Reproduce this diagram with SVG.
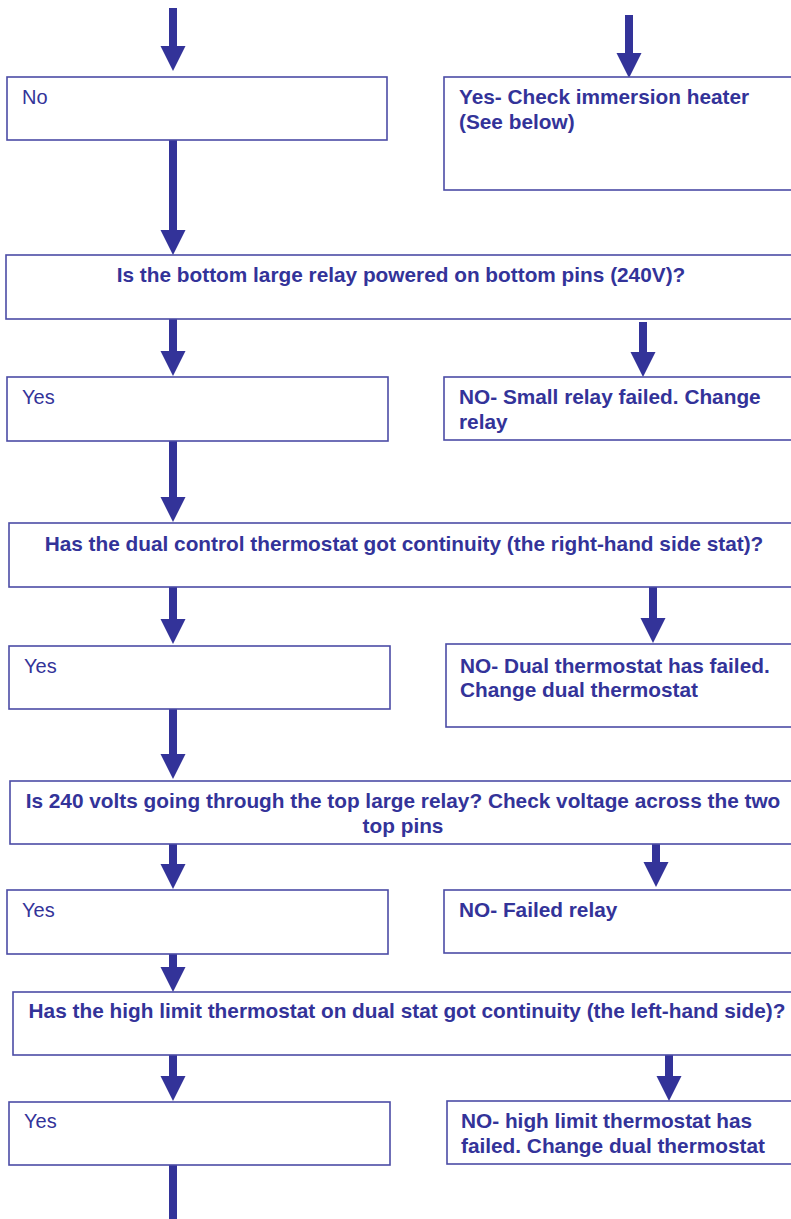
<svg xmlns="http://www.w3.org/2000/svg" width="791" height="1219" viewBox="0 0 791 1219">
<style>
.box{fill:#ffffff;stroke:#4b4ca6;stroke-width:1.6}
.t{fill:#333399;font-family:"Liberation Sans",Arial,sans-serif;font-size:20.8px;font-weight:bold}
.r{fill:#333399;font-family:"Liberation Sans",Arial,sans-serif;font-size:20px}
.c{text-anchor:middle}
.shaft{stroke:#333399;stroke-width:8;fill:none;marker-end:url(#head)}
.plain{stroke:#333399;stroke-width:8;fill:none}
</style>
<defs>
<marker id="head" viewBox="0 -12.5 25 25" markerWidth="25" markerHeight="25" refX="0" refY="0" orient="auto" markerUnits="userSpaceOnUse" overflow="visible">
<path d="M0,-12.5 L25,0 L0,12.5 Z" fill="#333399"/>
</marker>
</defs>
<rect width="791" height="1219" fill="#ffffff"/>
<g id="connectors">
<line class="shaft" x1="173" y1="8" x2="173" y2="46"/>
<line class="shaft" x1="629" y1="15" x2="629" y2="53"/>
<line class="shaft" x1="173" y1="140" x2="173" y2="230"/>
<line class="shaft" x1="173" y1="319" x2="173" y2="351"/>
<line class="shaft" x1="643" y1="322" x2="643" y2="352"/>
<line class="shaft" x1="173" y1="441" x2="173" y2="497"/>
<line class="shaft" x1="173" y1="587" x2="173" y2="619"/>
<line class="shaft" x1="653" y1="586" x2="653" y2="618"/>
<line class="shaft" x1="173" y1="709" x2="173" y2="754"/>
<line class="shaft" x1="173" y1="844" x2="173" y2="864"/>
<line class="shaft" x1="656" y1="843" x2="656" y2="862"/>
<line class="shaft" x1="173" y1="954" x2="173" y2="967"/>
<line class="shaft" x1="173" y1="1055" x2="173" y2="1076"/>
<line class="shaft" x1="669" y1="1055" x2="669" y2="1076"/>
<line class="plain" x1="173" y1="1165" x2="173" y2="1219"/>
</g>
<g id="no">
<rect class="box" x="7" y="77" width="380" height="63"/>
<text class="r" x="22" y="104">No</text>
</g>
<g id="yes-heater">
<rect class="box" x="444" y="77" width="360" height="113"/>
<text class="t" x="459" y="104">Yes- Check immersion heater</text>
<text class="t" x="459" y="129">(See below)</text>
</g>
<g id="q1">
<rect class="box" x="6" y="255" width="800" height="64"/>
<text class="t c" x="401" y="282">Is the bottom large relay powered on bottom pins (240V)?</text>
</g>
<g id="yes1">
<rect class="box" x="7" y="377" width="381" height="64"/>
<text class="r" x="22" y="404">Yes</text>
</g>
<g id="no1">
<rect class="box" x="444" y="377" width="360" height="63"/>
<text class="t" x="459" y="404">NO- Small relay failed. Change</text>
<text class="t" x="459" y="429">relay</text>
</g>
<g id="q2">
<rect class="box" x="9" y="523" width="800" height="64"/>
<text class="t c" x="404" y="551">Has the dual control thermostat got continuity (the right-hand side stat)?</text>
</g>
<g id="yes2">
<rect class="box" x="9" y="646" width="381" height="63"/>
<text class="r" x="24" y="673">Yes</text>
</g>
<g id="no2">
<rect class="box" x="446" y="644" width="360" height="83"/>
<text class="t" x="460" y="673">NO- Dual thermostat has failed.</text>
<text class="t" x="460" y="697">Change dual thermostat</text>
</g>
<g id="q3">
<rect class="box" x="10" y="781" width="800" height="63"/>
<text class="t c" x="403" y="808">Is 240 volts going through the top large relay? Check voltage across the two</text>
<text class="t c" x="403" y="833">top pins</text>
</g>
<g id="yes3">
<rect class="box" x="7" y="890" width="381" height="64"/>
<text class="r" x="22" y="917">Yes</text>
</g>
<g id="no3">
<rect class="box" x="444" y="890" width="360" height="63"/>
<text class="t" x="459" y="917">NO- Failed relay</text>
</g>
<g id="q4">
<rect class="box" x="13" y="992" width="800" height="63"/>
<text class="t c" x="407" y="1018">Has the high limit thermostat on dual stat got continuity (the left-hand side)?</text>
</g>
<g id="yes4">
<rect class="box" x="9" y="1102" width="381" height="63"/>
<text class="r" x="24" y="1128">Yes</text>
</g>
<g id="no4">
<rect class="box" x="447" y="1101" width="360" height="63"/>
<text class="t" x="461" y="1128">NO- high limit thermostat has</text>
<text class="t" x="461" y="1153">failed. Change dual thermostat</text>
</g>
</svg>
